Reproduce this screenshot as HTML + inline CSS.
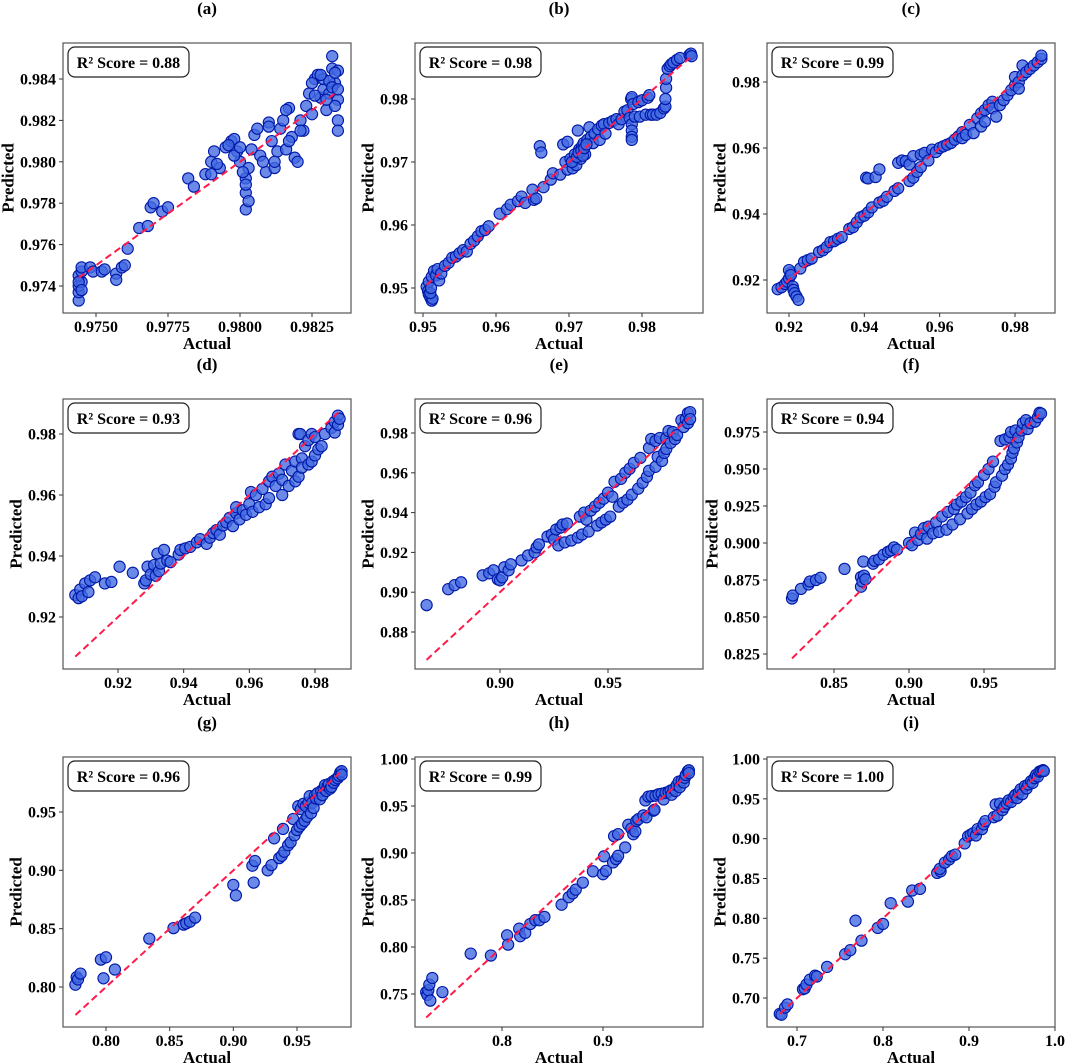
<!DOCTYPE html>
<html><head><meta charset="utf-8">
<style>
html,body{margin:0;padding:0;background:#fff;}
svg{display:block;font-family:"Liberation Serif",serif;font-weight:bold;}
</style></head>
<body>
<svg id="fig" width="1065" height="1064" viewBox="0 0 1065 1064" xmlns="http://www.w3.org/2000/svg"></svg>
<script>
// ---------- data (actual, predicted) per panel ----------
const ptsA=[[0.9744,0.9733],[0.9744,0.9737],[0.9744,0.9740],[0.9745,0.9742],[0.9744,0.9745],[0.9745,0.9747],[0.9745,0.9749],[0.9748,0.9749],[0.9749,0.9747],[0.9752,0.9747],[0.9753,0.9748],[0.9757,0.9746],[0.9757,0.9743],[0.9759,0.9749],[0.9760,0.9750],[0.9761,0.9758],[0.9765,0.9768],[0.9768,0.9769],[0.9769,0.9778],[0.9770,0.9780],[0.9773,0.9776],[0.9775,0.9778],[0.9782,0.9792],[0.9784,0.9788],[0.9788,0.9794],[0.9790,0.9800],[0.9791,0.9805],[0.9793,0.9797],[0.9795,0.9807],[0.9797,0.9810],[0.9798,0.9811],[0.9799,0.9805],[0.9800,0.9800],[0.9802,0.9792],[0.9802,0.9785],[0.9802,0.9777],[0.9803,0.9797],[0.9804,0.9806],[0.9805,0.9813],[0.9806,0.9816],[0.9807,0.9803],[0.9809,0.9795],[0.9810,0.9819],[0.9811,0.9810],[0.9812,0.9797],[0.9813,0.9805],[0.9814,0.9816],[0.9815,0.9820],[0.9816,0.9806],[0.9817,0.9826],[0.9818,0.9812],[0.9819,0.9802],[0.9820,0.9800],[0.9821,0.9820],[0.9822,0.9815],[0.9823,0.9827],[0.9824,0.9833],[0.9825,0.9823],[0.9826,0.9840],[0.9827,0.9842],[0.9828,0.9831],[0.9829,0.9835],[0.9830,0.9825],[0.9831,0.9833],[0.9832,0.9845],[0.9832,0.9851],[0.9833,0.9838],[0.9834,0.9844],[0.9834,0.9830],[0.9834,0.9820],[0.9834,0.9815],[0.9833,0.9827],[0.9829,0.9840],[0.9831,0.9839],[0.9796,0.9808],[0.9798,0.9803],[0.9800,0.9807],[0.9801,0.9795],[0.9802,0.9789],[0.9803,0.9781],[0.9808,0.9800],[0.9810,0.9817],[0.9812,0.9800],[0.9816,0.9825],[0.9817,0.9810],[0.9821,0.9815],[0.9825,0.9838],[0.9826,0.9832],[0.9828,0.9842],[0.9830,0.9830],[0.9832,0.9836],[0.9833,0.9843],[0.9834,0.9835],[0.9790,0.9794],[0.9792,0.9799],[0.9744,0.9742],[0.9745,0.9738]];
const ptsB=[[0.9505,0.9502],[0.9507,0.9495],[0.9508,0.9490],[0.9510,0.9485],[0.9512,0.9480],[0.9513,0.9483],[0.9508,0.9510],[0.9512,0.9518],[0.9515,0.9527],[0.9518,0.9520],[0.9520,0.9530],[0.9522,0.9512],[0.9525,0.9523],[0.9530,0.9535],[0.9535,0.9540],[0.9540,0.9548],[0.9545,0.9550],[0.9550,0.9555],[0.9555,0.9560],[0.9560,0.9558],[0.9565,0.9570],[0.9570,0.9575],[0.9575,0.9582],[0.9580,0.9590],[0.9585,0.9592],[0.9590,0.9598],[0.9605,0.9618],[0.9615,0.9625],[0.9620,0.9632],[0.9630,0.9638],[0.9635,0.9645],[0.9640,0.9635],[0.9650,0.9656],[0.9652,0.9640],[0.9655,0.9642],[0.9660,0.9725],[0.9662,0.9715],[0.9665,0.9660],[0.9675,0.9672],[0.9678,0.9682],[0.9688,0.9680],[0.9692,0.9728],[0.9698,0.9732],[0.9695,0.9700],[0.9698,0.9688],[0.9702,0.9705],[0.9705,0.9690],[0.9708,0.9712],[0.9710,0.9695],[0.9712,0.9750],[0.9714,0.9720],[0.9716,0.9705],[0.9718,0.9725],[0.9720,0.9730],[0.9722,0.9712],[0.9725,0.9735],[0.9728,0.9755],[0.9730,0.9740],[0.9733,0.9730],[0.9735,0.9745],[0.9740,0.9752],[0.9742,0.9735],[0.9745,0.9758],[0.9748,0.9760],[0.9750,0.9745],[0.9755,0.9762],[0.9760,0.9765],[0.9765,0.9768],[0.9768,0.9760],[0.9772,0.9768],[0.9776,0.9780],[0.9780,0.9782],[0.9783,0.9770],[0.9785,0.9800],[0.9786,0.9803],[0.9786,0.9760],[0.9786,0.9750],[0.9786,0.9740],[0.9786,0.9735],[0.9788,0.9792],[0.9790,0.9772],[0.9795,0.9795],[0.9797,0.9772],[0.9800,0.9798],[0.9805,0.9775],[0.9808,0.9802],[0.9810,0.9806],[0.9812,0.9775],[0.9815,0.9775],[0.9820,0.9775],[0.9825,0.9778],[0.9830,0.9785],[0.9832,0.9788],[0.9832,0.9800],[0.9833,0.9818],[0.9833,0.9832],[0.9835,0.9848],[0.9838,0.9852],[0.9840,0.9855],[0.9843,0.9858],[0.9848,0.9862],[0.9852,0.9865],[0.9865,0.9870],[0.9867,0.9872],[0.9868,0.9868],[0.9704,0.9700],[0.9711,0.9708],[0.9713,0.9715],[0.9717,0.9718],[0.9719,0.9710],[0.9721,0.9722],[0.9724,0.9728],[0.9510,0.9492],[0.9511,0.9500]];
const ptsC=[[0.917,0.9172],[0.918,0.9178],[0.919,0.9188],[0.9195,0.9195],[0.920,0.9205],[0.9205,0.9222],[0.920,0.9230],[0.9205,0.9215],[0.921,0.9180],[0.9212,0.9170],[0.9215,0.9160],[0.922,0.9150],[0.9225,0.9140],[0.923,0.9235],[0.924,0.9255],[0.925,0.9260],[0.926,0.9265],[0.928,0.9285],[0.929,0.9290],[0.930,0.9300],[0.931,0.9315],[0.932,0.9318],[0.933,0.9325],[0.934,0.9330],[0.936,0.9355],[0.937,0.9360],[0.938,0.9375],[0.939,0.9390],[0.940,0.9395],[0.941,0.9405],[0.9405,0.9510],[0.941,0.9508],[0.943,0.9512],[0.944,0.9535],[0.942,0.9420],[0.944,0.9435],[0.945,0.9440],[0.946,0.9452],[0.948,0.9470],[0.949,0.9478],[0.949,0.9555],[0.950,0.9562],[0.951,0.9560],[0.952,0.9550],[0.952,0.9500],[0.953,0.9510],[0.953,0.9575],[0.954,0.9528],[0.955,0.9580],[0.955,0.9542],[0.956,0.9585],[0.957,0.9562],[0.958,0.9595],[0.959,0.9588],[0.960,0.9600],[0.961,0.9605],[0.962,0.9610],[0.963,0.9615],[0.964,0.9625],[0.965,0.9635],[0.966,0.9648],[0.966,0.9630],[0.967,0.9640],[0.968,0.9670],[0.969,0.9645],[0.970,0.9690],[0.971,0.9705],[0.971,0.9665],[0.972,0.9715],[0.972,0.9680],[0.973,0.9730],[0.974,0.9740],[0.974,0.9720],[0.975,0.9695],[0.976,0.9730],[0.977,0.9745],[0.978,0.9760],[0.979,0.9775],[0.980,0.9790],[0.980,0.9815],[0.981,0.9800],[0.981,0.9780],[0.982,0.9850],[0.982,0.9820],[0.983,0.9830],[0.984,0.9840],[0.985,0.9850],[0.986,0.9860],[0.987,0.9870],[0.987,0.9880]];
const ptsD=[[0.907,0.9272],[0.908,0.9262],[0.9085,0.9290],[0.909,0.9268],[0.910,0.9310],[0.911,0.9282],[0.9115,0.9320],[0.913,0.9330],[0.916,0.9310],[0.918,0.9315],[0.9205,0.9365],[0.9245,0.9345],[0.928,0.9310],[0.9285,0.9320],[0.929,0.9365],[0.930,0.9340],[0.931,0.9370],[0.9315,0.9335],[0.932,0.9408],[0.9325,0.9350],[0.933,0.9375],[0.934,0.9420],[0.935,0.9385],[0.936,0.9380],[0.9385,0.9405],[0.939,0.9420],[0.9405,0.9425],[0.942,0.9430],[0.944,0.9445],[0.945,0.9455],[0.947,0.9440],[0.948,0.9460],[0.949,0.9475],[0.950,0.9485],[0.951,0.9470],[0.952,0.9500],[0.953,0.9510],[0.954,0.9525],[0.955,0.9498],[0.956,0.9540],[0.956,0.9560],[0.957,0.9520],[0.958,0.9550],[0.959,0.9535],[0.960,0.9570],[0.9605,0.9610],[0.961,0.9545],[0.962,0.9600],[0.963,0.9560],[0.964,0.9620],[0.965,0.9570],[0.966,0.9645],[0.966,0.9590],[0.967,0.9660],[0.968,0.9630],[0.969,0.9670],[0.970,0.9600],[0.970,0.9650],[0.971,0.9700],[0.972,0.9630],[0.973,0.9680],[0.974,0.9645],[0.974,0.9710],[0.975,0.9800],[0.9755,0.9800],[0.975,0.9660],[0.976,0.9720],[0.976,0.9690],[0.977,0.9760],[0.978,0.9780],[0.978,0.9700],[0.979,0.9800],[0.979,0.9710],[0.980,0.9730],[0.980,0.9790],[0.981,0.9750],[0.982,0.9760],[0.983,0.9800],[0.985,0.9820],[0.986,0.9805],[0.986,0.9840],[0.987,0.9860],[0.987,0.9830],[0.9875,0.9850]];
const ptsE=[[0.866,0.8935],[0.876,0.9015],[0.879,0.9035],[0.882,0.905],[0.892,0.9085],[0.895,0.9095],[0.897,0.911],[0.899,0.9065],[0.900,0.906],[0.901,0.9075],[0.902,0.9125],[0.904,0.911],[0.905,0.914],[0.910,0.916],[0.913,0.9185],[0.916,0.920],[0.917,0.9225],[0.918,0.924],[0.922,0.928],[0.924,0.929],[0.925,0.9265],[0.926,0.9315],[0.927,0.9235],[0.928,0.9325],[0.929,0.934],[0.930,0.925],[0.931,0.9345],[0.933,0.926],[0.936,0.9275],[0.937,0.938],[0.938,0.929],[0.939,0.940],[0.940,0.9365],[0.941,0.9305],[0.942,0.941],[0.944,0.943],[0.945,0.9335],[0.946,0.945],[0.947,0.935],[0.948,0.947],[0.949,0.9365],[0.950,0.950],[0.951,0.938],[0.952,0.948],[0.953,0.9555],[0.955,0.943],[0.956,0.957],[0.957,0.945],[0.958,0.960],[0.959,0.9465],[0.960,0.962],[0.961,0.949],[0.962,0.965],[0.964,0.952],[0.965,0.9675],[0.966,0.955],[0.968,0.958],[0.969,0.9725],[0.969,0.961],[0.970,0.977],[0.972,0.976],[0.972,0.963],[0.973,0.968],[0.974,0.9775],[0.975,0.966],[0.976,0.970],[0.977,0.9775],[0.977,0.972],[0.978,0.981],[0.979,0.975],[0.980,0.9805],[0.981,0.977],[0.982,0.979],[0.984,0.9865],[0.985,0.983],[0.986,0.987],[0.987,0.985],[0.987,0.990],[0.988,0.9905],[0.988,0.987]];
const ptsF=[[0.822,0.8625],[0.8225,0.8645],[0.828,0.869],[0.833,0.872],[0.834,0.874],[0.838,0.875],[0.841,0.8765],[0.857,0.8825],[0.868,0.8705],[0.868,0.877],[0.869,0.874],[0.8695,0.8875],[0.870,0.878],[0.871,0.8755],[0.876,0.886],[0.877,0.888],[0.880,0.889],[0.883,0.892],[0.886,0.894],[0.888,0.895],[0.890,0.897],[0.892,0.8955],[0.900,0.900],[0.902,0.8985],[0.904,0.907],[0.906,0.902],[0.908,0.906],[0.910,0.910],[0.912,0.903],[0.913,0.911],[0.916,0.9065],[0.918,0.914],[0.920,0.9075],[0.922,0.918],[0.925,0.909],[0.926,0.921],[0.929,0.9125],[0.930,0.923],[0.932,0.926],[0.934,0.916],[0.935,0.928],[0.938,0.931],[0.939,0.920],[0.941,0.934],[0.942,0.923],[0.944,0.939],[0.945,0.926],[0.946,0.941],[0.948,0.928],[0.950,0.946],[0.951,0.931],[0.953,0.950],[0.954,0.933],[0.956,0.955],[0.957,0.938],[0.958,0.941],[0.961,0.969],[0.962,0.9455],[0.964,0.970],[0.964,0.950],[0.966,0.953],[0.967,0.9715],[0.968,0.957],[0.968,0.975],[0.969,0.961],[0.970,0.964],[0.971,0.976],[0.972,0.968],[0.973,0.9715],[0.975,0.976],[0.976,0.981],[0.978,0.983],[0.979,0.977],[0.981,0.981],[0.984,0.982],[0.986,0.985],[0.987,0.988],[0.988,0.9875]];
const ptsG=[[0.776,0.802],[0.777,0.8085],[0.778,0.8065],[0.780,0.8115],[0.796,0.8235],[0.798,0.8075],[0.800,0.8255],[0.807,0.815],[0.834,0.8415],[0.853,0.8505],[0.861,0.8535],[0.863,0.8545],[0.866,0.856],[0.870,0.8595],[0.900,0.8875],[0.902,0.8785],[0.915,0.904],[0.916,0.8895],[0.917,0.908],[0.927,0.900],[0.930,0.9045],[0.932,0.9275],[0.936,0.9105],[0.938,0.9125],[0.939,0.9355],[0.940,0.916],[0.943,0.9215],[0.945,0.924],[0.947,0.944],[0.948,0.930],[0.950,0.9345],[0.951,0.955],[0.952,0.9375],[0.953,0.9525],[0.954,0.940],[0.955,0.957],[0.956,0.9425],[0.957,0.955],[0.958,0.946],[0.959,0.958],[0.960,0.9635],[0.961,0.949],[0.962,0.958],[0.963,0.9535],[0.964,0.964],[0.965,0.9615],[0.966,0.966],[0.968,0.961],[0.969,0.968],[0.970,0.9645],[0.971,0.970],[0.972,0.973],[0.973,0.968],[0.974,0.972],[0.975,0.974],[0.976,0.970],[0.977,0.9715],[0.978,0.976],[0.979,0.975],[0.980,0.9775],[0.982,0.979],[0.983,0.981],[0.984,0.984],[0.985,0.985],[0.985,0.982]];
const ptsH=[[0.725,0.752],[0.726,0.749],[0.727,0.754],[0.728,0.760],[0.729,0.743],[0.731,0.767],[0.741,0.752],[0.769,0.793],[0.789,0.791],[0.805,0.8125],[0.806,0.8025],[0.817,0.8195],[0.818,0.8115],[0.823,0.815],[0.828,0.8245],[0.833,0.8285],[0.837,0.8285],[0.842,0.832],[0.859,0.845],[0.866,0.853],[0.870,0.857],[0.873,0.861],[0.880,0.8685],[0.890,0.8805],[0.900,0.8775],[0.901,0.8965],[0.903,0.881],[0.910,0.890],[0.911,0.918],[0.913,0.8935],[0.915,0.920],[0.915,0.897],[0.922,0.906],[0.925,0.930],[0.928,0.926],[0.930,0.920],[0.932,0.923],[0.933,0.934],[0.935,0.936],[0.940,0.940],[0.942,0.956],[0.943,0.938],[0.945,0.960],[0.948,0.9605],[0.950,0.945],[0.951,0.946],[0.952,0.961],[0.955,0.9625],[0.958,0.963],[0.960,0.957],[0.962,0.964],[0.965,0.965],[0.967,0.9665],[0.968,0.962],[0.970,0.968],[0.972,0.966],[0.973,0.972],[0.975,0.976],[0.976,0.970],[0.978,0.977],[0.980,0.975],[0.981,0.980],[0.982,0.983],[0.984,0.987],[0.985,0.988],[0.985,0.985]];
const ptsI=[[0.680,0.680],[0.682,0.679],[0.686,0.688],[0.689,0.692],[0.707,0.711],[0.709,0.712],[0.711,0.717],[0.715,0.723],[0.721,0.728],[0.723,0.727],[0.735,0.739],[0.756,0.755],[0.762,0.760],[0.768,0.797],[0.775,0.772],[0.794,0.788],[0.800,0.793],[0.809,0.819],[0.829,0.821],[0.834,0.835],[0.843,0.837],[0.863,0.857],[0.867,0.859],[0.866,0.862],[0.872,0.870],[0.877,0.874],[0.880,0.878],[0.884,0.880],[0.895,0.894],[0.899,0.903],[0.902,0.905],[0.905,0.907],[0.908,0.904],[0.910,0.912],[0.915,0.912],[0.917,0.918],[0.919,0.922],[0.929,0.927],[0.931,0.943],[0.933,0.929],[0.936,0.944],[0.939,0.936],[0.941,0.940],[0.944,0.944],[0.946,0.948],[0.949,0.946],[0.952,0.952],[0.954,0.955],[0.956,0.951],[0.958,0.958],[0.960,0.962],[0.962,0.956],[0.965,0.966],[0.967,0.963],[0.969,0.968],[0.972,0.972],[0.974,0.970],[0.976,0.976],[0.978,0.980],[0.980,0.978],[0.982,0.984],[0.984,0.985],[0.986,0.986],[0.987,0.985]];

// ---------- tick labels ----------
const xTicksA=["0.9750","0.9775","0.9800","0.9825"], yTicksA=["0.974","0.976","0.978","0.980","0.982","0.984"];
const xTicksB=["0.95","0.96","0.97","0.98"], yTicksB=["0.95","0.96","0.97","0.98"];
const xTicksC=["0.92","0.94","0.96","0.98"], yTicksC=["0.92","0.94","0.96","0.98"];
const xTicksD=["0.92","0.94","0.96","0.98"], yTicksD=["0.92","0.94","0.96","0.98"];
const xTicksE=["0.90","0.95"], yTicksE=["0.88","0.90","0.92","0.94","0.96","0.98"];
const xTicksF=["0.85","0.90","0.95"], yTicksF=["0.825","0.850","0.875","0.900","0.925","0.950","0.975"];
const xTicksG=["0.80","0.85","0.90","0.95"], yTicksG=["0.80","0.85","0.90","0.95"];
const xTicksH=["0.8","0.9"], yTicksH=["0.75","0.80","0.85","0.90","0.95","1.00"];
const xTicksI=["0.7","0.8","0.9","1.0"], yTicksI=["0.70","0.75","0.80","0.85","0.90","0.95","1.00"];
const titles=["(a)","(b)","(c)","(d)","(e)","(f)","(g)","(h)","(i)"];
const r2Labels=["0.88","0.98","0.99","0.93","0.96","0.94","0.96","0.99","1.00"];

// ---------- layout (axis calibration: two value->pixel anchors) ----------
const colL=[63,415,767], rowT=[43,399,757], W=288, H=270;
const calib=[
 {x:[0.975,96,0.9825,312],y:[0.984,79,0.974,286]},
 {x:[0.95,423,0.98,642],y:[0.98,99,0.95,288]},
 {x:[0.92,789,0.98,1015],y:[0.98,82,0.92,280]},
 {x:[0.92,118,0.98,315],y:[0.98,434,0.92,617]},
 {x:[0.90,500,0.95,608],y:[0.98,433,0.88,632]},
 {x:[0.85,834,0.95,984],y:[0.975,432,0.825,654]},
 {x:[0.80,106,0.95,297],y:[0.95,812,0.80,987]},
 {x:[0.8,502,0.9,603],y:[1.00,759,0.75,994]},
 {x:[0.7,797,1.0,1055],y:[1.00,759,0.70,998]}
];
const allPts=[ptsA,ptsB,ptsC,ptsD,ptsE,ptsF,ptsG,ptsH,ptsI];
const allX=[xTicksA,xTicksB,xTicksC,xTicksD,xTicksE,xTicksF,xTicksG,xTicksH,xTicksI];
const allY=[yTicksA,yTicksB,yTicksC,yTicksD,yTicksE,yTicksF,yTicksG,yTicksH,yTicksI];

const NS="http://www.w3.org/2000/svg";
const svg=document.getElementById('fig');
function mk(tag,attrs,parent){const e=document.createElementNS(NS,tag);for(const k in attrs)e.setAttribute(k,attrs[k]);(parent||svg).appendChild(e);return e;}
function scale(c){const [v1,p1,v2,p2]=c;return v=>p1+(v-v1)*(p2-p1)/(v2-v1);}
function tw(s){return s.length*8-4;}

for(let i=0;i<9;i++){
  const L=colL[i%3], T=rowT[Math.floor(i/3)];
  const sx=scale(calib[i].x), sy=scale(calib[i].y);
  const g=mk('g',{});
  
  
  const t=mk('text',{x:L+W/2,y:T-29,'text-anchor':'middle','font-size':17},g);
  t.textContent=titles[i];
  
  
  const cp=mk('clipPath',{id:'cp'+i},g);
  mk('rect',{x:L,y:T,width:W,height:H},cp);
  const pg=mk('g',{'clip-path':'url(#cp'+i+')'},g);
  
  
  const pts=allPts[i];
  for(const p of pts){
    const c=mk('circle',{cx:sx(p[0]).toFixed(1),cy:sy(p[1]).toFixed(1),r:5.6,fill:'rgba(65,105,225,0.78)',stroke:'#0018a8','stroke-width':1.1},pg);
    
    
  }
  const xs=pts.map(p=>p[0]);const mn=Math.min(...xs),mx=Math.max(...xs);
  const ln=mk('line',{x1:sx(mn),y1:sy(mn),x2:sx(mx),y2:sy(mx),stroke:'#ff1a4a','stroke-width':2,'stroke-dasharray':'7,4'},pg);
  
  
  const fr=mk('rect',{x:L,y:T,width:W,height:H,fill:'none',stroke:'#555','stroke-width':1.2},g);
  
  
  for(const s of allX[i]){
    const px=sx(parseFloat(s));
    mk('line',{x1:px,y1:T+H,x2:px,y2:T+H+4,stroke:'#333','stroke-width':1},g);
    const tx=mk('text',{x:px,y:T+H+19,'text-anchor':'middle','font-size':16},g);
    tx.textContent=s;
    
    
  }
  let maxw=0;
  for(const s of allY[i]){
    const py=sy(parseFloat(s));maxw=Math.max(maxw,tw(s));
    mk('line',{x1:L-4,y1:py,x2:L,y2:py,stroke:'#333','stroke-width':1},g);
    const ty=mk('text',{x:L-7,y:py+5.5,'text-anchor':'end','font-size':16},g);
    ty.textContent=s;
    
    
  }
  const xl=mk('text',{x:L+W/2,y:T+H+36,'text-anchor':'middle','font-size':17},g);
  xl.textContent='Actual';
  
  
  const yx=L-7-maxw-12, yc=T+H/2;
  const yl=mk('text',{x:yx,y:yc,'text-anchor':'middle','font-size':17,transform:'rotate(-90 '+yx+' '+yc+')','dominant-baseline':'central'},g);
  yl.textContent='Predicted';
  
  
  const bx=mk('rect',{x:L+5,y:T+4,width:121,height:30,rx:7,fill:'#fff',stroke:'#222','stroke-width':1.2},g);
  
  
  const bt=mk('text',{x:L+65.5,y:T+25,'text-anchor':'middle','font-size':16},g);
  bt.textContent='R² Score = '+r2Labels[i];
  
  
}
</script>
</body></html>
